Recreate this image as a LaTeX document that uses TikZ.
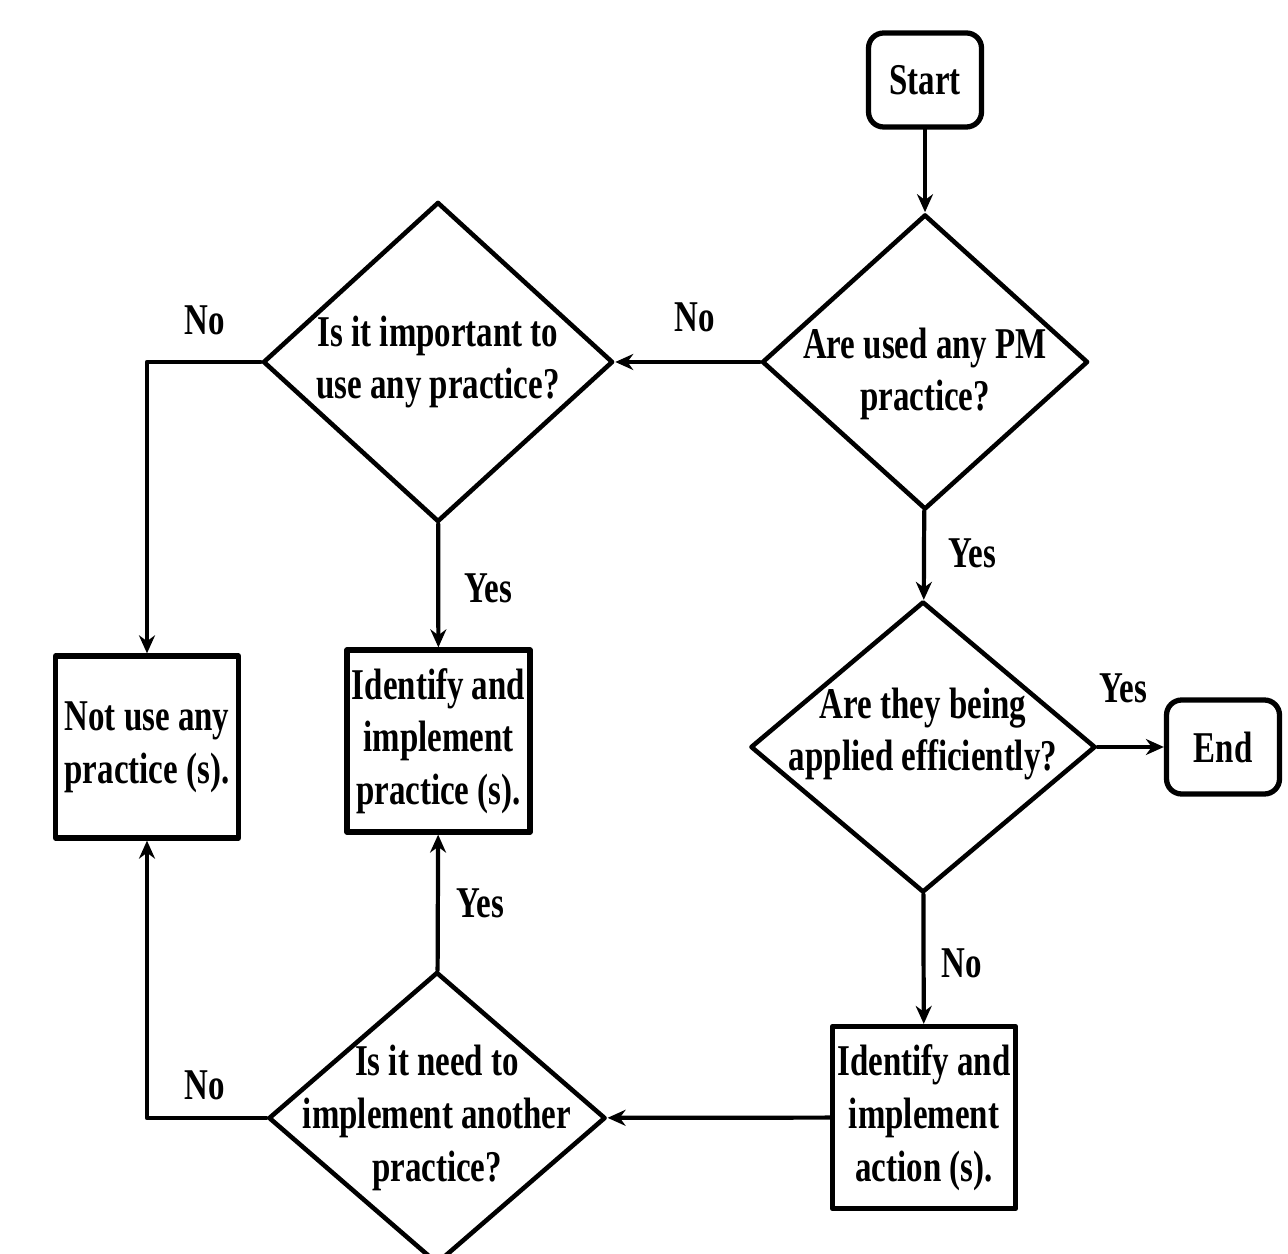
\documentclass[tikz,border=0pt]{standalone}
\usepackage{fontspec}
\setmainfont{Liberation Serif}[FakeStretch=0.75]
\usetikzlibrary{arrows.meta,shapes.geometric}

\begin{document}
\begin{tikzpicture}[x=1cm,y=1cm,>={Stealth[length=1.8mm,width=1.6mm]},line cap=round,line join=round,
  txt/.style={font=\bfseries\fontsize{12.5}{15}\selectfont,align=center,inner sep=0pt},
  term/.style={txt,draw,line width=1.5pt,rounded corners=4.3pt,minimum width=1.13cm,minimum height=0.94cm},
  procbox/.style={txt,draw,line width=1.5pt,minimum width=1.83cm,minimum height=1.82cm},
  decision/.style={draw,diamond,line width=1.3pt,inner sep=0pt},
  flow/.style={->,line width=1.2pt}]
\useasboundingbox (0,0) rectangle (12.88,-12.54);
\node[term] (start) at (9.25,-0.80) {Start};
\node[decision,minimum width=3.26cm,minimum height=2.95cm,
  label={[txt,yshift=-0.12cm]center:Are used any PM\\practice?}] (pm) at (9.25,-3.62) {};
\node[decision,minimum width=3.50cm,minimum height=3.20cm,
  label={[txt]center:Is it important to\\use any practice?}] (important) at (4.38,-3.62) {};
\node[procbox] (notuse) at (1.47,-7.47) {Not use any\\practice (s).};
\node[procbox] (idprac) at (4.385,-7.41) {Identify and\\implement\\practice (s).};
\node[decision,minimum width=3.45cm,minimum height=2.91cm,
  label={[txt,yshift=0.13cm]center:Are they being\\applied efficiently?}] (efficient) at (9.23,-7.47) {};
\node[term] (end) at (12.23,-7.47) {End};
\node[procbox] (idact) at (9.24,-11.175) {Identify and\\implement\\action (s).};
\node[decision,minimum width=3.37cm,minimum height=2.92cm,
  label={[txt]center:Is it need to\\implement another\\practice?}] (another) at (4.37,-11.18) {};
\draw[flow] (start) -- (pm);
\draw[flow] (pm) -- (important);
\draw[flow] (important.west) -| (notuse.north);
\draw[flow] (important) -- (idprac);
\draw[flow] (pm) -- (efficient);
\draw[flow] (efficient) -- (end);
\draw[flow] (efficient) -- (idact);
\draw[flow] (idact) -- (another);
\draw[flow] (another) -- (idprac);
\draw[flow] (another.west) -| (notuse.south);
\node[txt] (no1) at (6.95,-3.17) {No};
\node[txt] (no2) at (2.05,-3.20) {No};
\node[txt] (no3) at (9.62,-9.63) {No};
\node[txt] (no4) at (2.05,-10.85) {No};
\node[txt] (yes1) at (4.88,-5.88) {Yes};
\node[txt] (yes2) at (9.72,-5.53) {Yes};
\node[txt] (yes3) at (11.23,-6.88) {Yes};
\node[txt] (yes4) at (4.80,-9.03) {Yes};
\end{tikzpicture}
\end{document}
